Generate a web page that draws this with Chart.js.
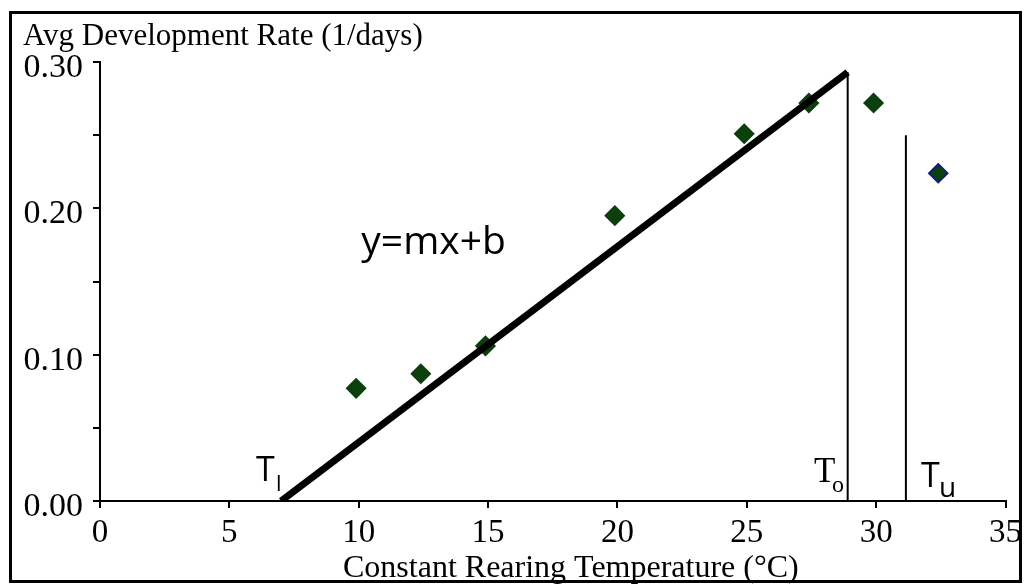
<!DOCTYPE html>
<html>
<head>
<meta charset="utf-8">
<script src="https://cdn.jsdelivr.net/npm/chart.js@4.4.0/dist/chart.umd.min.js"></script>
<style>
  body { margin: 0; background: #fff; }
  #wrap { width: 1028px; height: 584px; }
</style>
</head>
<body>
<div id="wrap"><canvas id="devChart" width="1028" height="584"></canvas></div>
<script>
// rearing temperatures (°C) and measured avg development rate (1/days)
const temps = [9.9, 12.4, 14.9, 19.9, 24.9, 27.4, 29.9, 32.4];
const rates = [0.077, 0.087, 0.106, 0.195, 0.251, 0.272, 0.272, 0.224];

// fitted linear part, from lower threshold to optimum
const fitX = [7.0, 28.9];
const fitY = [0.0, 0.293];

// optimum and upper threshold markers
const tOptimum = 28.9;
const tOptimumTop = 0.293;
const tUpper = 31.15;
const tUpperTop = 0.25;

const xTicks = [0, 5, 10, 15, 20, 25, 30, 35];
const yLabelTicks = [0.00, 0.10, 0.20, 0.30];

const serif = "'Liberation Serif', 'Times New Roman', serif";
const sans = "'Open Sans', 'DejaVu Sans', sans-serif";

const pointBorders = temps.map((t, i) => i === temps.length - 1 ? '#1010a0' : '#0b3f0b');

const extras = {
    id: 'extras',
    afterDatasetsDraw(chart) {
        const ctx = chart.ctx;
        const xs = chart.scales.x, ys = chart.scales.y;
        ctx.save();
        ctx.fillStyle = '#000';
        ctx.textBaseline = 'alphabetic';
        ctx.textAlign = 'left';

        // equation label
        ctx.font = "39px " + sans;
        ctx.fillText('y=mx+b', xs.getPixelForValue(10.1), ys.getPixelForValue(0.169));

        // T_l
        ctx.font = "34px " + sans;
        ctx.fillText('T', 256, 481);
        ctx.font = "22px " + sans;
        ctx.fillText('l', 276, 491);

        // T_o
        ctx.font = "35px " + serif;
        ctx.fillText('T', 814, 482);
        ctx.font = "24px " + serif;
        ctx.fillText('o', 832, 492);

        // T_u
        ctx.font = "34px " + sans;
        ctx.fillText('T', 921, 487);
        ctx.font = "28px " + sans;
        ctx.fillText('u', 939, 497);

        // axis titles
        ctx.font = "31px " + serif;
        ctx.fillText('Avg Development Rate (1/days)', 23, 45);
        ctx.font = "32px " + serif;
        ctx.fillText('Constant Rearing Temperature (\u00B0C)', 343, 577);

        // frame
        ctx.strokeStyle = '#000';
        ctx.lineWidth = 3;
        ctx.strokeRect(10.5, 12.5, 1010, 569);
        ctx.restore();
    }
};

const ctx = document.getElementById('devChart').getContext('2d');
const devChart = new Chart(ctx, {
    type: 'scatter',
    data: {
        datasets: [
            {
                label: 'fit',
                data: fitX.map((x, i) => ({ x: x, y: fitY[i] })),
                showLine: true,
                borderColor: '#000',
                borderWidth: 7,
                pointRadius: 0,
                borderCapStyle: 'butt'
            },
            {
                label: 'To',
                data: [{ x: tOptimum, y: 0 }, { x: tOptimum, y: tOptimumTop }],
                showLine: true,
                borderColor: '#000',
                borderWidth: 2,
                pointRadius: 0
            },
            {
                label: 'Tu',
                data: [{ x: tUpper, y: 0 }, { x: tUpper, y: tUpperTop }],
                showLine: true,
                borderColor: '#000',
                borderWidth: 2,
                pointRadius: 0
            },
            {
                label: 'rate',
                data: temps.map((t, i) => ({ x: t, y: rates[i] })),
                pointStyle: 'rectRot',
                pointRadius: 9.5,
                backgroundColor: '#0b3f0b',
                borderColor: pointBorders,
                borderWidth: 1.5
            }
        ]
    },
    options: {
        responsive: false,
        animation: false,
        events: [],
        layout: {
            padding: { left: 0, top: 62, right: 20, bottom: 0 }
        },
        plugins: {
            legend: { display: false },
            tooltip: { enabled: false }
        },
        scales: {
            x: {
                type: 'linear',
                min: 0,
                max: 35,
                afterFit: (s) => { s.height = 83; },
                afterBuildTicks: (s) => { s.ticks = xTicks.map(v => ({ value: v })); },
                ticks: {
                    autoSkip: false,
                    maxRotation: 0,
                    padding: 6,
                    color: '#000',
                    font: { family: serif, size: 33 },
                    callback: (v) => String(v)
                },
                grid: {
                    drawOnChartArea: false,
                    drawTicks: true,
                    tickLength: 7,
                    color: '#000',
                    lineWidth: 2
                },
                border: { display: true, color: '#000', width: 2 }
            },
            y: {
                type: 'linear',
                min: 0,
                max: 0.30,
                afterFit: (s) => { s.width = 100; },
                ticks: {
                    stepSize: 0.05,
                    autoSkip: false,
                    padding: 10,
                    labelOffset: 6,
                    color: '#000',
                    font: { family: serif, size: 34 },
                    callback: (v) => {
                        const hit = yLabelTicks.find(t => Math.abs(t - v) < 1e-6);
                        return hit === undefined ? '' : hit.toFixed(2);
                    }
                },
                grid: {
                    drawOnChartArea: false,
                    drawTicks: true,
                    tickLength: 7,
                    color: '#000',
                    lineWidth: 2
                },
                border: { display: true, color: '#000', width: 2 }
            }
        }
    },
    plugins: [extras]
});
</script>
</body>
</html>
